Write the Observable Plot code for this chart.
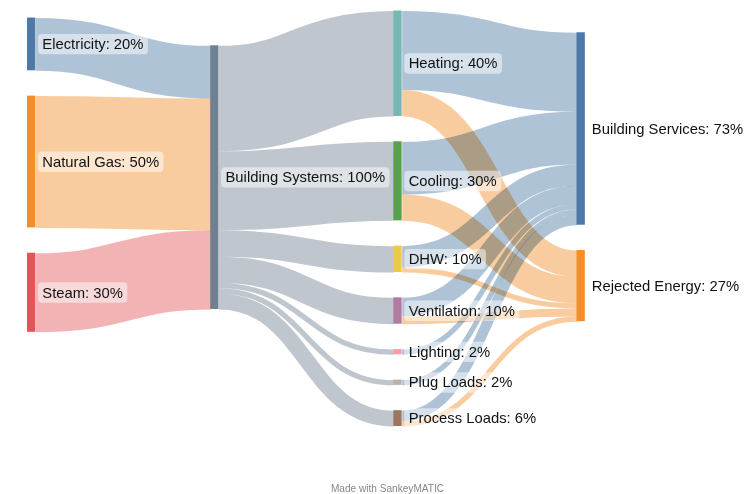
<!DOCTYPE html>
<html>
<head>
<meta charset="utf-8">
<script src="https://cdn.jsdelivr.net/npm/d3@7"></script>
<script src="https://cdn.jsdelivr.net/npm/@observablehq/plot@0.6"></script>
<style>
  html, body { margin: 0; padding: 0; background: #fff; }
  #chart svg { display: block; }
</style>
</head>
<body>
<div id="chart"></div>
<script>
// ---- Data ----
const nodeNames = ["Electricity", "Natural Gas", "Steam", "Building Systems",
  "Heating", "Cooling", "DHW", "Ventilation", "Lighting", "Plug Loads", "Process Loads",
  "Building Services", "Rejected Energy"];
const nodeColors = ["#4e79a7", "#f28e2b", "#e15759", "#708090",
  "#76b7b2", "#59a14f", "#edc948", "#b07aa1", "#ff9da7", "#bab0ac", "#9c755f",
  "#4e79a7", "#f28e2b"];

const flowSources = ["Electricity", "Natural Gas", "Steam",
  "Building Systems", "Building Systems", "Building Systems", "Building Systems",
  "Building Systems", "Building Systems", "Building Systems",
  "Heating", "Heating", "Cooling", "Cooling", "DHW", "DHW",
  "Ventilation", "Ventilation", "Lighting", "Plug Loads", "Process Loads", "Process Loads"];
const flowTargets = ["Building Systems", "Building Systems", "Building Systems",
  "Heating", "Cooling", "DHW", "Ventilation", "Lighting", "Plug Loads", "Process Loads",
  "Building Services", "Rejected Energy", "Building Services", "Rejected Energy",
  "Building Services", "Rejected Energy", "Building Services", "Rejected Energy",
  "Building Services", "Building Services", "Building Services", "Rejected Energy"];
const flowValues = [20, 50, 30,
  40, 30, 10, 10, 2, 2, 6,
  30, 10, 20, 10, 8, 2, 7, 3, 2, 2, 4, 2];
// node whose colour each flow takes
const flowColorFrom = ["Electricity", "Natural Gas", "Steam",
  "Building Systems", "Building Systems", "Building Systems", "Building Systems",
  "Building Systems", "Building Systems", "Building Systems",
  "Building Services", "Rejected Energy", "Building Services", "Rejected Energy",
  "Building Services", "Rejected Energy", "Building Services", "Rejected Energy",
  "Building Services", "Building Services", "Building Services", "Rejected Energy"];

const footerText = "Made with SankeyMATIC";

// ---- Layout (d3-sankey style relaxation, in value units, input order kept) ----
const nodePadding = 9.6;          // in value units
const iterations = 6;
const nodeW = 0.0455;             // in column units

function computeSankey() {
  const nodes = nodeNames.map((name, i) => ({name, color: nodeColors[i], index: i, sourceLinks: [], targetLinks: []}));
  const byName = new Map(nodes.map(n => [n.name, n]));
  const links = flowSources.map((s, i) => ({
    index: i, source: byName.get(s), target: byName.get(flowTargets[i]),
    value: flowValues[i], color: byName.get(flowColorFrom[i]).color
  }));
  for (const l of links) { l.source.sourceLinks.push(l); l.target.targetLinks.push(l); }
  for (const n of nodes) n.value = Math.max(d3.sum(n.sourceLinks, l => l.value), d3.sum(n.targetLinks, l => l.value));
  let current = new Set(nodes), next = new Set(), x = 0;
  while (current.size) {
    for (const n of current) { n.depth = x; for (const l of n.sourceLinks) next.add(l.target); }
    x++; current = next; next = new Set();
  }
  const nLayers = x;
  for (const n of nodes) n.layer = n.sourceLinks.length ? n.depth : nLayers - 1;
  const columns = d3.range(nLayers).map(() => []);
  for (const n of nodes) columns[n.layer].push(n);

  const maxLen = d3.max(columns, c => c.length);
  const valueMax = d3.max(columns, c => d3.sum(c, n => n.value));
  const y0 = 0;
  const y1 = valueMax + (maxLen - 1) * nodePadding;
  const py = Math.min(nodePadding, (y1 - y0) / (maxLen - 1));

  const ascSource = (a, b) => (a.source.y0 - b.source.y0) || (a.index - b.index);
  const ascTarget = (a, b) => (a.target.y0 - b.target.y0) || (a.index - b.index);
  function reorderLinks(ns) {
    for (const n of ns) { n.sourceLinks.sort(ascTarget); n.targetLinks.sort(ascSource); }
  }
  function reorderNodeLinks(n) {
    for (const l of n.targetLinks) l.source.sourceLinks.sort(ascTarget);
    for (const l of n.sourceLinks) l.target.targetLinks.sort(ascSource);
  }

  const ky = d3.min(columns, c => (y1 - y0 - (c.length - 1) * py) / d3.sum(c, n => n.value));
  for (const ns of columns) {
    let y = y0;
    for (const n of ns) {
      n.y0 = y; n.y1 = y + n.value * ky; y = n.y1 + py;
      for (const l of n.sourceLinks) l.width = l.value * ky;
    }
    y = (y1 - y + py) / (ns.length + 1);
    ns.forEach((n, i) => { n.y0 += y * (i + 1); n.y1 += y * (i + 1); });
    reorderLinks(ns);
  }

  function sourceTop(source, target) {
    let y = target.y0 - (target.targetLinks.length - 1) * py / 2;
    for (const {source: n, width} of target.targetLinks) { if (n === source) break; y += width + py; }
    for (const {target: n, width} of source.sourceLinks) { if (n === target) break; y -= width; }
    return y;
  }
  function targetTop(source, target) {
    let y = source.y0 - (source.sourceLinks.length - 1) * py / 2;
    for (const {target: n, width} of source.sourceLinks) { if (n === target) break; y += width + py; }
    for (const {source: n, width} of target.targetLinks) { if (n === source) break; y -= width; }
    return y;
  }
  function topToBottom(ns, y, i, alpha) {
    for (; i < ns.length; ++i) {
      const n = ns[i]; const dy = (y - n.y0) * alpha;
      if (dy > 1e-6) { n.y0 += dy; n.y1 += dy; }
      y = n.y1 + py;
    }
  }
  function bottomToTop(ns, y, i, alpha) {
    for (; i >= 0; --i) {
      const n = ns[i]; const dy = (n.y1 - y) * alpha;
      if (dy > 1e-6) { n.y0 -= dy; n.y1 -= dy; }
      y = n.y0 - py;
    }
  }
  function resolveCollisions(ns, alpha) {
    const i = ns.length >> 1; const s = ns[i];
    bottomToTop(ns, s.y0 - py, i - 1, alpha);
    topToBottom(ns, s.y1 + py, i + 1, alpha);
    bottomToTop(ns, y1, ns.length - 1, alpha);
    topToBottom(ns, y0, 0, alpha);
  }
  function idealFromSources(t) {
    let y = 0, w = 0;
    for (const {source, value} of t.targetLinks) {
      const v = value * (t.layer - source.layer);
      y += targetTop(source, t) * v; w += v;
    }
    return w > 0 ? y / w : null;
  }
  function relaxLeftToRight(alpha, beta) {
    for (let i = 1; i < columns.length; ++i) {
      const col = columns[i];
      for (const t of col) {
        const ideal = idealFromSources(t);
        if (ideal === null) continue;
        const dy = (ideal - t.y0) * alpha;
        t.y0 += dy; t.y1 += dy; reorderNodeLinks(t);
      }
      resolveCollisions(col, beta);
    }
  }
  function relaxRightToLeft(alpha, beta) {
    for (let i = columns.length - 2; i >= 0; --i) {
      const col = columns[i];
      for (const s of col) {
        let y = 0, w = 0;
        for (const {target, value} of s.sourceLinks) {
          const v = value * (target.layer - s.layer);
          y += sourceTop(s, target) * v; w += v;
        }
        if (!(w > 0)) continue;
        const dy = (y / w - s.y0) * alpha;
        s.y0 += dy; s.y1 += dy; reorderNodeLinks(s);
      }
      resolveCollisions(col, beta);
    }
  }
  // final pass: overlapping nodes settle together at their value-weighted ideal
  function settleColumn(col) {
    const ideals = col.map(n => { const v = idealFromSources(n); return v === null ? n.y0 : v; });
    let blocks = [];
    col.forEach((n, k) => {
      let b = {items: [{n, ideal: ideals[k], off: 0}], h: n.y1 - n.y0};
      b.top = ideals[k];
      while (blocks.length) {
        const p = blocks[blocks.length - 1];
        if (p.top + p.h + py <= b.top + 1e-9) break;
        blocks.pop();
        const shift = p.h + py;
        const items = p.items.concat(b.items.map(it => ({n: it.n, ideal: it.ideal, off: it.off + shift})));
        const wsum = d3.sum(items, it => it.n.value);
        const top = d3.sum(items, it => (it.ideal - it.off) * it.n.value) / wsum;
        b = {items, h: p.h + py + b.h, top};
      }
      blocks.push(b);
    });
    for (const b of blocks) for (const it of b.items) {
      const h = it.n.y1 - it.n.y0;
      it.n.y0 = b.top + it.off; it.n.y1 = it.n.y0 + h;
    }
    bottomToTop(col, y1, col.length - 1, 1);
    topToBottom(col, y0, 0, 1);
    for (const n of col) reorderNodeLinks(n);
  }
  for (let i = 0; i < iterations; ++i) {
    const alpha = Math.pow(0.99, i);
    const beta = Math.max(1 - alpha, (i + 1) / iterations);
    relaxRightToLeft(alpha, beta);
    relaxLeftToRight(alpha, beta);
  }
  settleColumn(columns[nLayers - 1]);
  for (const n of nodes) {
    let a = n.y0, b = n.y0;
    for (const l of n.sourceLinks) { l.sy = a + l.width / 2; a += l.width; }
    for (const l of n.targetLinks) { l.ty = b + l.width / 2; b += l.width; }
  }
  return {nodes, links, yMax: y1, nLayers};
}

const {nodes, links, yMax, nLayers} = computeSankey();

const xRange = [27, 576.5];
const yRange = [10.5, 426];
const pxPerUnit = (yRange[1] - yRange[0]) / yMax;

const plot = Plot.plot({
  width: 748,
  height: 494,
  margin: 0,
  x: {domain: [0, nLayers - 1], range: xRange, axis: null},
  y: {domain: [0, yMax], range: yRange, axis: null},
  color: {type: "identity"},
  style: {fontFamily: "'Liberation Sans', Arial, Helvetica, sans-serif", background: "#fff", overflow: "visible"},
  marks: [
    Plot.link(links, {
      x1: d => d.source.layer + nodeW, x2: d => d.target.layer,
      y1: "sy", y2: "ty",
      curve: "bump-x",
      stroke: "color", strokeOpacity: 0.45,
      strokeWidth: d => Math.max(1, d.width * pxPerUnit),
      mixBlendMode: "multiply"
    }),
    Plot.rect(nodes, {
      x1: "layer", x2: d => d.layer + nodeW,
      y1: "y0", y2: "y1", fill: "color"
    }),
    Plot.text(nodes, {
      x: d => d.layer + nodeW, y: d => (d.y0 + d.y1) / 2,
      text: d => `${d.name}: ${d.value}%`,
      textAnchor: "start", dx: 6.5, fontSize: 14.8, fill: "#111"
    }),
    Plot.text([footerText], {
      frameAnchor: "bottom", text: d => d, dx: 13, dy: -3,
      fontSize: 10.1, fill: "#888"
    })
  ]
});

document.getElementById("chart").appendChild(plot);

// translucent rounded boxes behind node labels
const labelGroup = plot.querySelectorAll('g[aria-label="text"]')[0];
if (labelGroup) {
  const ns = "http://www.w3.org/2000/svg";
  for (const t of Array.from(labelGroup.querySelectorAll("text"))) {
    const bb = t.getBBox();
    const r = document.createElementNS(ns, "rect");
    r.setAttribute("x", bb.x - 4.4);
    r.setAttribute("y", bb.y - 2.2);
    r.setAttribute("width", bb.width + 8.8);
    r.setAttribute("height", bb.height + 4.4);
    r.setAttribute("rx", 4);
    r.setAttribute("fill", "#fff");
    r.setAttribute("fill-opacity", 0.5);
    r.setAttribute("stroke", "none");
    if (t.getAttribute("transform")) r.setAttribute("transform", t.getAttribute("transform"));
    t.parentNode.insertBefore(r, t);
  }
}
</script>
</body>
</html>
